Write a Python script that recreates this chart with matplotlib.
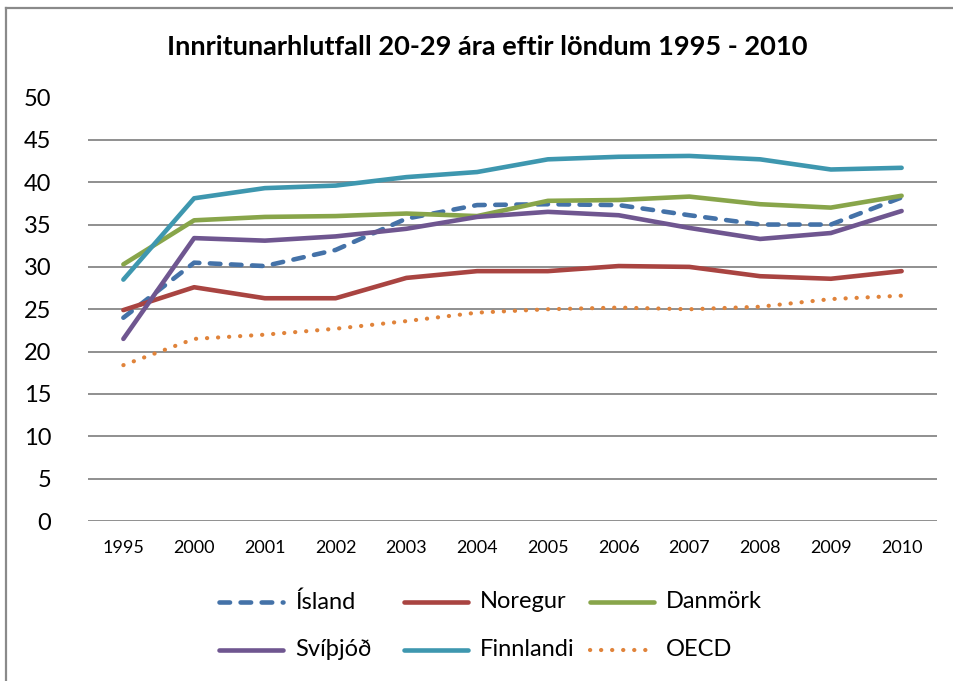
import matplotlib
matplotlib.use("Agg")
import matplotlib.pyplot as plt
from matplotlib.lines import Line2D

plt.rcParams['font.family'] = ['Lato', 'DejaVu Sans']

years = ["1995", "2000", "2001", "2002", "2003", "2004", "2005", "2006", "2007", "2008", "2009", "2010"]
series_names = ["Ísland", "Noregur", "Danmörk", "Svíþjóð", "Finnlandi", "OECD"]
island = [24.0, 30.5, 30.1, 32.0, 35.7, 37.3, 37.4, 37.3, 36.1, 35.0, 35.0, 38.2]
noregur = [24.9, 27.6, 26.3, 26.3, 28.7, 29.5, 29.5, 30.1, 30.0, 28.9, 28.6, 29.5]
danmork = [30.3, 35.5, 35.9, 36.0, 36.3, 36.0, 37.8, 37.9, 38.3, 37.4, 37.0, 38.4]
svithjod = [21.5, 33.4, 33.1, 33.6, 34.5, 35.9, 36.5, 36.1, 34.6, 33.3, 34.0, 36.6]
finnlandi = [28.5, 38.1, 39.3, 39.6, 40.6, 41.2, 42.7, 43.0, 43.1, 42.7, 41.5, 41.7]
oecd = [18.4, 21.5, 22.0, 22.7, 23.6, 24.6, 25.0, 25.2, 25.0, 25.3, 26.2, 26.6]
values = [island, noregur, danmork, svithjod, finnlandi, oecd]

styles = [
    dict(color="#4472A8", lw=3.3, ls=(0, (2.3, 2.3)), dash_capstyle="round"),
    dict(color="#A94441", lw=3.3, ls="-", solid_capstyle="round"),
    dict(color="#88A54A", lw=3.3, ls="-", solid_capstyle="round"),
    dict(color="#6F5690", lw=3.3, ls="-", solid_capstyle="round"),
    dict(color="#3E97AF", lw=3.3, ls="-", solid_capstyle="round"),
    dict(color="#E0833A", lw=3.0, ls=(0, (0.05, 2.6)), dash_capstyle="round"),
]

W, H = 954, 681
fig = plt.figure(figsize=(W / 100, H / 100), dpi=100)
ax = fig.add_axes([88 / W, 1 - 521 / H, (937 - 88) / W, (521 - 97.5) / H])

x = list(range(len(years)))
for name, vals, st in zip(series_names, values, styles):
    ax.plot(x, vals, label=name, solid_joinstyle="round", dash_joinstyle="round", **st)

ax.set_xlim(-0.5, len(years) - 0.5)
ax.set_ylim(0, 50)
ax.set_yticks(range(0, 51, 5))
ax.set_xticks(x)
ax.set_xticklabels(years)
ax.tick_params(axis="y", length=0, pad=26.5, labelsize=17)
ax.tick_params(axis="x", length=0, pad=14, labelsize=13)
for s in ax.spines.values():
    s.set_visible(False)
ax.grid(axis="y", color="#878787", lw=1.3)
ax.set_axisbelow(True)

fig.text(487 / W, 1 - 47 / H, "Innritunarhlutfall 20-29 ára eftir löndum 1995 - 2010",
         ha="center", va="center", fontsize=19.6, fontweight="bold")

# frame
fig.add_artist(Line2D([6.5 / W, 6.5 / W], [0, 1 - 7.5 / H], transform=fig.transFigure, color="#8A8A8A", lw=1.6))
fig.add_artist(Line2D([6.5 / W, 1], [1 - 7.5 / H, 1 - 7.5 / H], transform=fig.transFigure, color="#8A8A8A", lw=1.6))

# legend (manual layout)
col_x = [219, 404, 590]
row_y = [602, 650]
hlen = 64
for i, (name, st) in enumerate(zip(series_names, styles)):
    cx = col_x[i % 3]
    cy = row_y[i // 3]
    ln = Line2D([cx / W, (cx + hlen) / W], [1 - cy / H, 1 - cy / H], transform=fig.transFigure, **st)
    fig.add_artist(ln)
    fig.text((cx + hlen + 12) / W, 1 - cy / H, name, ha="left", va="center", fontsize=17)

fig.savefig("out.png", dpi=100)
